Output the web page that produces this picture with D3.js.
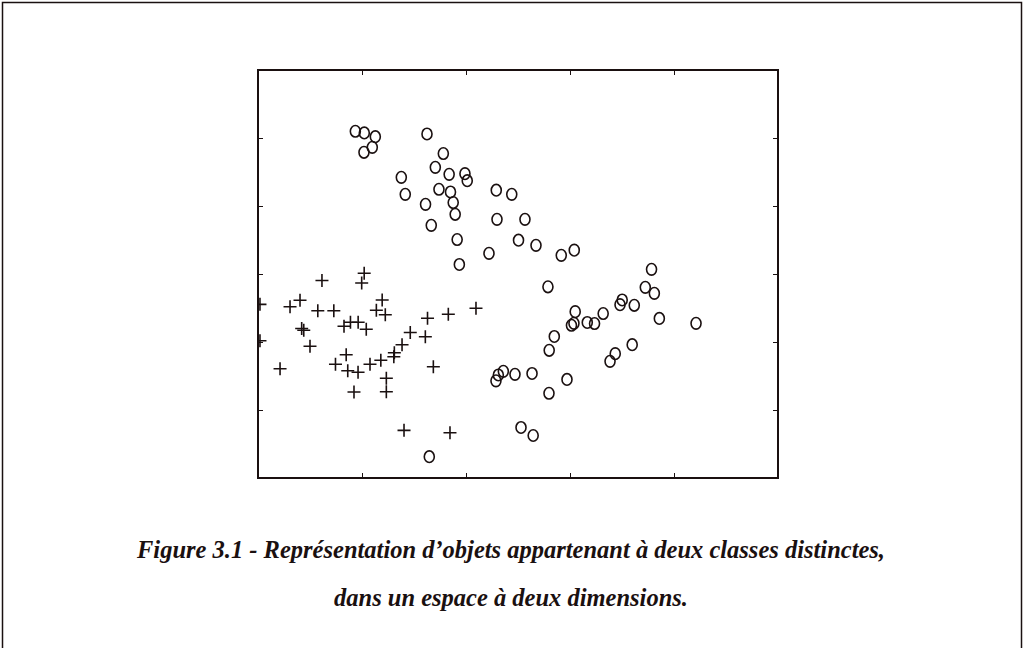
<!DOCTYPE html>
<html>
<head>
<meta charset="utf-8">
<script src="https://cdn.jsdelivr.net/npm/d3@7"></script>
<style>
  body { margin: 0; background: #fff; }
  svg { display: block; }
</style>
</head>
<body>
<svg id="chart" width="1024" height="648"></svg>
<script>
// class 1 (circles) : x, y
const circleX = [0.936, 1.022, 1.128, 1.099, 1.019, 1.625, 1.782, 1.378, 1.705, 1.838,
  1.990, 2.012, 1.416, 1.740, 1.851, 1.877, 1.611, 1.896, 1.666, 1.915,
  1.936, 2.221, 2.291, 2.440, 2.298, 2.567, 2.505, 2.673, 2.916, 3.041,
  3.784, 2.788, 3.724, 3.811, 3.502, 3.481, 3.618, 3.050, 3.319, 3.859,
  3.038, 3.014, 3.166, 3.236, 4.212, 2.849, 2.800, 3.598, 3.435, 3.385,
  2.359, 2.311, 2.288, 2.471, 2.635, 2.971, 2.798, 2.529, 2.646, 1.647];
const circleY = [5.099, 5.074, 5.019, 4.863, 4.790, 5.059, 4.772, 4.422, 4.569, 4.466,
  4.475, 4.372, 4.172, 4.246, 4.206, 4.051, 4.025, 3.878, 3.716, 3.507,
  3.140, 3.304, 4.232, 4.172, 3.804, 3.804, 3.497, 3.422, 3.275, 3.350,
  3.069, 2.812, 2.804, 2.716, 2.618, 2.549, 2.540, 2.446, 2.419, 2.346,
  2.275, 2.246, 2.287, 2.272, 2.275, 2.081, 1.878, 1.960, 1.828, 1.716,
  1.569, 1.515, 1.429, 1.525, 1.537, 1.449, 1.246, 0.743, 0.625, 0.313];

// class 2 (crosses) : x, y
const crossX = [0.615, 1.021, 0.997, 0.019, 0.308, 0.404, 0.575, 0.729, 1.194, 1.138,
  1.224, 0.420, 0.440, 0.827, 0.889, 0.963, 1.041, 1.630, 1.830, 2.096,
  0.019, 0.500, 1.464, 1.609, 1.385, 1.311, 1.306, 0.848, 0.745, 0.863,
  0.962, 1.077, 1.181, 0.212, 1.686, 1.234, 0.923, 1.234, 1.404, 1.846];
const crossY = [2.904, 3.010, 2.868, 2.554, 2.518, 2.613, 2.459, 2.460, 2.618, 2.466,
  2.400, 2.199, 2.172, 2.232, 2.290, 2.290, 2.187, 2.349, 2.407, 2.496,
  2.018, 1.937, 2.140, 2.078, 1.960, 1.841, 1.784, 1.813, 1.672, 1.578,
  1.556, 1.672, 1.731, 1.607, 1.637, 1.466, 1.265, 1.268, 0.701, 0.666];

const xTicks = [1, 2, 3, 4];
const yTicks = [1, 2, 3, 4, 5];

const captionLines = [
  'Figure 3.1 - Représentation d’objets appartenant à deux classes distinctes,',
  'dans un espace à deux dimensions.'
];

const ink = '#1a1010';
const svg = d3.select('#chart');

// outer page frame
svg.append('rect')
  .attr('x', 2.5).attr('y', 2.5)
  .attr('width', 1019).attr('height', 700)
  .attr('fill', 'none')
  .attr('stroke', ink)
  .attr('stroke-width', 1.5);

const plotLeft = 258, plotTop = 70, w = 520, h = 408;
const x = d3.scaleLinear().domain([0, 5]).range([0, w]);
const y = d3.scaleLinear().domain([0, 6]).range([h, 0]);

const g = svg.append('g').attr('transform', `translate(${plotLeft},${plotTop})`);

svg.append('defs').append('clipPath').attr('id', 'plot-clip')
  .append('rect').attr('width', w).attr('height', h);

// inward ticks on all four sides, no labels
const tickLen = 5;
const axes = [
  [d3.axisBottom(x), `translate(0,${h})`],
  [d3.axisTop(x), 'translate(0,0)'],
  [d3.axisLeft(y), 'translate(0,0)'],
  [d3.axisRight(y), `translate(${w},0)`]
];
axes.forEach(([ax, tr], i) => {
  ax.tickValues(i < 2 ? xTicks : yTicks).tickSize(-tickLen).tickFormat('');
  const a = g.append('g').attr('transform', tr).call(ax);
  a.select('.domain').remove();
  a.selectAll('line').attr('stroke', ink).attr('stroke-width', 1);
});

const marks = g.append('g').attr('clip-path', 'url(#plot-clip)');

// circles
marks.selectAll('ellipse')
  .data(d3.range(circleX.length))
  .enter()
  .append('ellipse')
  .attr('cx', i => x(circleX[i]))
  .attr('cy', i => y(circleY[i]))
  .attr('rx', 5)
  .attr('ry', 5.8)
  .attr('fill', 'none')
  .attr('stroke', ink)
  .attr('stroke-width', 1.6);

// crosses
const arm = 6.5;
marks.selectAll('path.cross')
  .data(d3.range(crossX.length))
  .enter()
  .append('path')
  .attr('class', 'cross')
  .attr('d', i => {
    const cx = x(crossX[i]), cy = y(crossY[i]);
    return `M${cx - arm},${cy}H${cx + arm}M${cx},${cy - arm}V${cy + arm}`;
  })
  .attr('fill', 'none')
  .attr('stroke', ink)
  .attr('stroke-width', 1.6);

// plot frame
g.append('rect')
  .attr('width', w).attr('height', h)
  .attr('fill', 'none')
  .attr('stroke', ink)
  .attr('stroke-width', 2);

// caption
svg.selectAll('text.caption')
  .data(captionLines)
  .enter()
  .append('text')
  .attr('class', 'caption')
  .attr('x', 511)
  .attr('y', (d, i) => 558 + i * 48)
  .attr('text-anchor', 'middle')
  .style('font-family', '"Liberation Serif", "Times New Roman", serif')
  .style('font-weight', 'bold')
  .style('font-style', 'italic')
  .style('font-size', '24.5px')
  .attr('fill', ink)
  .text(d => d);
</script>
</body>
</html>
